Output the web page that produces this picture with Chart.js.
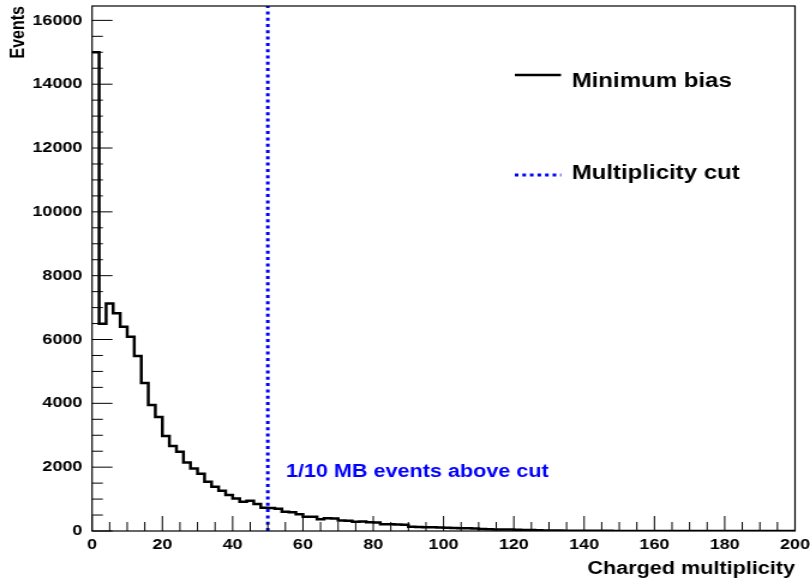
<!DOCTYPE html>
<html>
<head>
<meta charset="utf-8">
<title>Charged multiplicity</title>
<script src="https://cdn.jsdelivr.net/npm/chart.js@4/dist/chart.umd.min.js"></script>
<style>
  html, body { margin: 0; padding: 0; background: #ffffff; }
  #c { display: block; }
</style>
</head>
<body>
<!-- The drawing surface is 675 px wide and shown 810 px wide, giving the wide ROOT-style lettering. -->
<canvas id="c" width="675" height="587" style="width:810px;height:587px;"></canvas>
<script>
// ---- data -------------------------------------------------------------
const xMin = 0;
const xMax = 200;
const binWidth = 2;

// Events per bin of charged multiplicity (bins of width 2 from 0 to 200)
const counts = [
  15000, 6490, 7130, 6820, 6400, 6090, 5480, 4640, 3950, 3570,
  2975, 2660, 2480, 2150, 1960, 1790, 1545, 1390, 1260, 1130,
  1020,  920,  950,  845,  730,  720,  700,  600,  585,  525,
   450,  445,  370,  400,  390,  330,  320,  290,  300,  275,
   265,  215,  210,  205,  195,  130,  125,  120,  115,  110,
   100,   95,   90,   85,   80,   60,   55,   50,   50,   45,
    40,   35,   30,   20,   18,   15,   12,   10,    8,    7,
     6,    5,    5,    4,    3,    3,    2,    2,    2,    1,
     1,    1,    1,    0,    0,    0,    0,    0,    0,    0,
     0,    0,    0,    0,    0,    0,    0,    0,    0,    0
];

const cutValue = 50;              // multiplicity cut position
const yMax = 16450;

const xTickValues = [0, 20, 40, 60, 80, 100, 120, 140, 160, 180, 200];
const yTickValues = [0, 2000, 4000, 6000, 8000, 10000, 12000, 14000, 16000];
const xMinorStep = 5;
const yMinorStep = 500;

const seriesLabels = ['Minimum bias', 'Multiplicity cut'];
const axisTitles = { x: 'Charged multiplicity', y: 'Events' };
const noteText = '1/10 MB events above cut';

// ---- styling ----------------------------------------------------------
const FONT = "'Liberation Sans', Arial, Helvetica, sans-serif";
const BLUE = '#0000ff';
const CUT_DASH = [3, 3.3];

// Histogram outline: one point on each bin's left edge, plus the closing edge.
const histPoints = counts.map((v, i) => ({ x: xMin + i * binWidth, y: v }));
histPoints.push({ x: xMin + counts.length * binWidth, y: counts[counts.length - 1] });

const cutPoints = [{ x: cutValue, y: 0 }, { x: cutValue, y: yMax }];

// Frame, inward tick marks, legend and the note beside the cut line.
const rootFrame = {
  id: 'rootFrame',
  afterDatasetsDraw(chart) {
    const { ctx, chartArea: a, scales: { x, y } } = chart;
    ctx.save();

    // frame
    ctx.strokeStyle = '#000';
    ctx.lineWidth = 1.2;
    ctx.strokeRect(a.left, a.top, a.right - a.left, a.bottom - a.top);

    // tick marks pointing into the plot
    ctx.lineWidth = 1;
    ctx.beginPath();
    for (let v = xMin; v <= xMax + 1e-9; v += xMinorStep) {
      const px = x.getPixelForValue(v);
      const len = xTickValues.includes(v) ? 15 : 9;
      ctx.moveTo(px, a.bottom);
      ctx.lineTo(px, a.bottom - len);
    }
    for (let v = 0; v <= yMax; v += yMinorStep) {
      const py = y.getPixelForValue(v);
      const len = yTickValues.includes(v) ? 17 : 9;
      ctx.moveTo(a.left, py);
      ctx.lineTo(a.left + len, py);
    }
    ctx.stroke();

    // legend
    const rows = [
      { ds: chart.data.datasets[1], lineY: 75, textY: 87 },
      { ds: chart.data.datasets[0], lineY: 175, textY: 178.5 }
    ];
    ctx.font = `bold 20px ${FONT}`;
    ctx.textAlign = 'left';
    ctx.textBaseline = 'alphabetic';
    rows.forEach(r => {
      ctx.save();
      ctx.strokeStyle = r.ds.borderColor;
      ctx.lineWidth = r.ds.borderWidth;
      ctx.setLineDash(r.ds.borderDash || []);
      ctx.beginPath();
      ctx.moveTo(429, r.lineY);
      ctx.lineTo(467.5, r.lineY);
      ctx.stroke();
      ctx.restore();
      ctx.fillStyle = '#000';
      ctx.fillText(r.ds.label, 476.4, r.textY);
    });

    // note next to the cut
    ctx.font = `bold 18px ${FONT}`;
    ctx.fillStyle = BLUE;
    ctx.fillText(noteText, x.getPixelForValue(cutValue) + 15, 476.5);

    ctx.restore();
  }
};

const tickFont = { family: FONT, size: 15, weight: 'bold' };

new Chart(document.getElementById('c'), {
  type: 'line',
  data: {
    datasets: [
      {
        label: seriesLabels[1],
        data: cutPoints,
        borderColor: BLUE,
        borderWidth: 3,
        borderDash: CUT_DASH,
        borderCapStyle: 'butt',
        pointRadius: 0,
        fill: false,
        order: 0
      },
      {
        label: seriesLabels[0],
        data: histPoints,
        stepped: 'before',
        borderColor: '#000000',
        borderWidth: 2.5,
        pointRadius: 0,
        fill: false,
        order: 1
      }
    ]
  },
  options: {
    responsive: false,
    animation: false,
    devicePixelRatio: 1,
    layout: { padding: { left: 0, right: 12.5, top: 6, bottom: 0 } },
    plugins: {
      legend: { display: false },
      tooltip: { enabled: false }
    },
    scales: {
      x: {
        type: 'linear',
        position: 'bottom',
        min: xMin,
        max: xMax,
        afterBuildTicks: s => { s.ticks = xTickValues.map(v => ({ value: v })); },
        afterFit: s => { s.height = 56; s.paddingLeft = 0; s.paddingRight = 0; },
        grid: { display: false, drawTicks: false },
        border: { display: false },
        ticks: {
          color: '#000', font: tickFont, padding: 5,
          maxRotation: 0, autoSkip: false,
          callback: v => String(v)
        },
        title: {
          display: true, text: axisTitles.x, align: 'end', color: '#000',
          font: { family: FONT, size: 18, weight: 'bold' },
          padding: { top: 0, bottom: 7 }
        }
      },
      y: {
        type: 'linear',
        position: 'left',
        min: 0,
        max: yMax,
        afterBuildTicks: s => { s.ticks = yTickValues.map(v => ({ value: v })); },
        afterFit: s => { s.width = 76.7; s.paddingTop = 0; s.paddingBottom = 0; },
        grid: { display: false, drawTicks: false },
        border: { display: false },
        ticks: {
          color: '#000', font: tickFont, padding: 8,
          autoSkip: false,
          callback: v => String(v)
        },
        title: {
          display: true, text: axisTitles.y, align: 'end', color: '#000',
          font: { family: FONT, size: 16, weight: 'bold' },
          padding: { top: 6, bottom: 0 }
        }
      }
    }
  },
  plugins: [rootFrame]
});
</script>
</body>
</html>
